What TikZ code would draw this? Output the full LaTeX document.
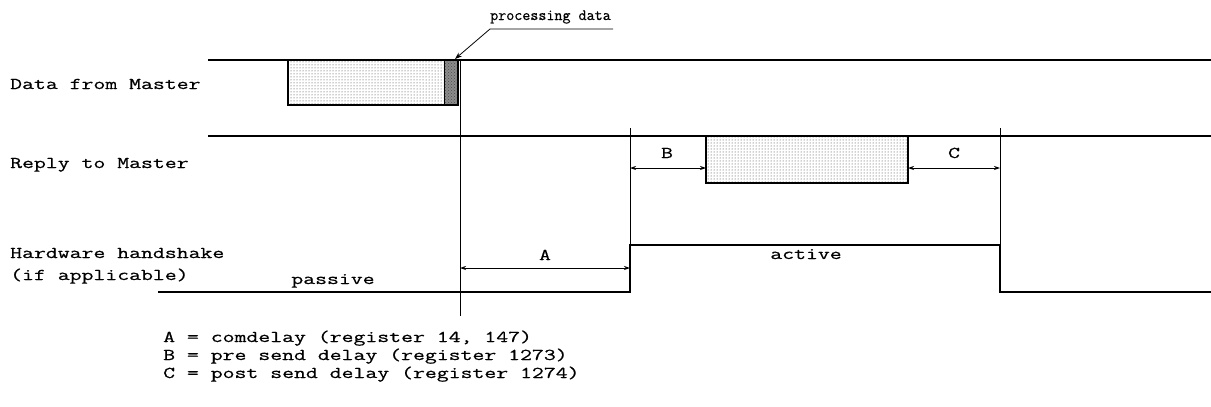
\documentclass[tikz,border=0pt]{standalone}
\usepackage{fontspec}
\setmonofont{Latin Modern Mono}[FakeStretch=1.4,FakeBold=0.6]
\newfontfamily\smalltt{Latin Modern Mono}[FakeBold=0.6]
\usetikzlibrary{arrows.meta,patterns}
\begin{document}
\begin{tikzpicture}[x=1pt,y=-1pt,
  sig/.style={line width=2pt},
  guide/.style={line width=0.8pt},
  lbl/.style={font=\ttfamily\fontsize{16.5}{18}\selectfont, inner sep=0pt, anchor=base},
  small/.style={font=\smalltt\fontsize{15.6}{17}\selectfont, inner sep=0pt, anchor=base west},
  dim/.style={line width=0.8pt, {Stealth[length=6pt,width=4pt]}-{Stealth[length=6pt,width=4pt]}},
  lightbox/.style={pattern=dots, pattern color=black!80},
  darkbox/.style={fill=black!45},
  boxedge/.style={draw, line width=2pt}]
\useasboundingbox (0,0) rectangle (1211,407);
% signals
\coordinate (d0) at (208,60); \coordinate (d1) at (1211,60);
\coordinate (r0) at (208,136); \coordinate (r1) at (1211,136);
\coordinate (h0) at (158,292); \coordinate (h1) at (630,292); \coordinate (h2) at (630,245);
\coordinate (h3) at (1000,245); \coordinate (h4) at (1000,292); \coordinate (h5) at (1211,292);
% boxes
\path[lightbox] (288,60) rectangle (444,105);
\path[darkbox] (444,60) rectangle (458,105);
\path[pattern=crosshatch dots, pattern color=black!70] (444,60) rectangle (458,105);
\draw[line width=1pt] (444,60) -- (444,105);
\draw[boxedge] (288,60) rectangle (458,105);
\path[lightbox] (706,136) rectangle (908,183);
\draw[boxedge] (706,136) rectangle (908,183);
\draw[sig] (d0) -- (d1);
\draw[sig] (r0) -- (r1);
\draw[sig] (h0) -- (h1) -- (h2) -- (h3) -- (h4) -- (h5);
% guides
\coordinate (g0t) at (460,60); \coordinate (g0b) at (460,316);
\coordinate (g1t) at (630,128); \coordinate (g1b) at (630,292);
\coordinate (g2t) at (1000,128); \coordinate (g2b) at (1000,292);
\draw[guide] (g0t) -- (g0b);
\draw[guide] (g1t) -- (g1b);
\draw[guide] (g2t) -- (g2b);
% dimension arrows
\coordinate (aL) at (460,268); \coordinate (aR) at (630,268);
\coordinate (bL) at (630,168); \coordinate (bR) at (706,168);
\coordinate (cL) at (908,168); \coordinate (cR) at (1000,168);
\draw[dim] (aL) -- (aR);
\draw[dim] (bL) -- (bR);
\draw[dim] (cL) -- (cR);
\node[lbl] (A) at (545,260) {A};
\node[lbl] (B) at (667,158) {B};
\node[lbl] (C) at (954,158) {C};
\node[lbl] (act) at (806,259) {active};
\node[lbl] (pas) at (333,284) {passive};
% leader
\node[small] (pd) at (490,20) {processing data};
\coordinate (pk) at (490,29); \coordinate (pe) at (613,29); \coordinate (pt) at (455,59);
\draw[line width=0.8pt, -{Stealth[length=7pt,width=5pt]}] (pe) -- (pk) -- (pt);
% left labels
\node[lbl, anchor=base west] (l1) at (10,89) {Data from Master};
\node[lbl, anchor=base west] (l2) at (10,168) {Reply to Master};
\node[lbl, anchor=base west] (l3) at (10,258) {Hardware handshake};
\node[lbl, anchor=base west] (l4) at (10,280) {(if applicable)};
% legend
\node[lbl, anchor=base west] (la) at (163,342) {A = comdelay (register 14, 147)};
\node[lbl, anchor=base west] (lb) at (163,360) {B = pre send delay (register 1273)};
\node[lbl, anchor=base west] (lc) at (163,378) {C = post send delay (register 1274)};
\end{tikzpicture}
\end{document}
